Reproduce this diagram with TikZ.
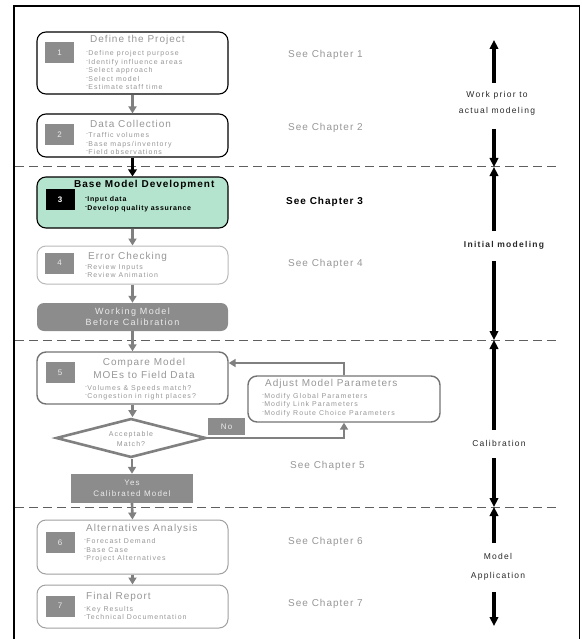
\documentclass[tikz,border=0pt]{standalone}
\usepackage{fontspec}
\usepackage{graphicx}
\setmainfont{Liberation Sans}
\newfontfamily\spacedA[LetterSpace=10]{Liberation Sans}
\newfontfamily\spacedB[LetterSpace=15]{Liberation Sans}
\usetikzlibrary{arrows.meta,shapes.geometric}

\definecolor{boxgray}{RGB}{140,140,140}
\definecolor{txtgray}{RGB}{150,150,150}
\definecolor{lightedge}{RGB}{185,185,185}
\definecolor{softedge}{RGB}{160,160,160}
\definecolor{midedge}{RGB}{115,115,115}
\definecolor{arrowgray}{RGB}{128,128,128}
\definecolor{mint}{RGB}{180,228,205}
\definecolor{dashgray}{RGB}{95,95,95}
\definecolor{sidetext}{RGB}{40,40,40}
\definecolor{paletext}{RGB}{235,235,235}

% small raised dash used in front of each list item
\newcommand\bul{\raisebox{2pt}{\scalebox{0.8}[0.8]{-}}\hspace{0.3pt}}

\begin{document}
\begin{tikzpicture}[x=1pt,y=-1pt,
  stage/.style={draw, rounded corners=9pt, minimum width=191pt, inner sep=0pt, line width=1.1pt},
  numbox/.style={fill=boxgray, minimum width=29pt, minimum height=21pt, inner sep=0pt,
                 text=paletext, font=\spacedA\fontsize{8}{9}\selectfont},
  title/.style={anchor=west, inner sep=0pt, text=txtgray, font=\spacedA\fontsize{10}{12}\selectfont},
  items/.style={anchor=west, inner sep=0pt, text=txtgray, align=left,
                font=\spacedB\fontsize{7}{8.5}\selectfont},
  chap/.style={anchor=west, inner sep=0pt, text=txtgray, font=\spacedA\fontsize{10}{12}\selectfont},
  grayfill/.style={fill=boxgray, inner sep=0pt, text=paletext, align=center,
                   font=\spacedB\fontsize{8}{10.5}\selectfont},
  flow/.style={draw=arrowgray, line width=2.6pt, -{Triangle[width=8pt,length=7pt]}},
  side/.style={line width=3.6pt, -{Triangle[width=8.5pt,length=9pt]}},
  divider/.style={draw=dashgray, line width=1pt, dash pattern=on 9pt off 5pt},
  sidelabel/.style={inner sep=0pt, text=sidetext, align=center,
                    font=\spacedB\fontsize{8.5}{16.5}\selectfont}
]
\useasboundingbox (0,0) rectangle (581,639);

% outer frame (open at the bottom)
\draw[line width=2pt] (14,639) -- (14,6) -- (579.5,6);
\draw[line width=1pt] (579.5,6) -- (579.5,639);

% phase dividers
\draw[divider] (15,167) -- (557,167);
\draw[divider] (15,340) -- (557,340);
\draw[divider] (15,507) -- (557,507);

% ---- stage 1
\node[stage] (b1) at (132.5,63) [minimum height=62pt] {};
\node[numbox] (n1) at (59.5,53) {1};
\node[title] (t1) at (90,40) {Define the Project};
\node[items] (i1) at (86,70) {\bul Define project purpose\\\bul Identify influence areas\\\bul Select approach\\\bul Select model\\\bul Estimate staff time};
\node[chap] (c1) at (288,55) {See Chapter 1};

% ---- stage 2
\node[stage] (b2) at (132.5,135.5) [minimum height=43pt] {};
\node[numbox] (n2) at (59.5,135) {2};
\node[title] (t2) at (90,124) {Data Collection};
\node[items] (i2) at (86,143.5) {\bul Traffic volumes\\\bul Base maps/inventory\\\bul Field observations};
\node[chap] (c2) at (288,128) {See Chapter 2};

% ---- stage 3
\node[stage, fill=mint] (b3) at (132.5,202.5) [minimum height=51pt] {};
\node[numbox, fill=black, text=white, font=\bfseries\spacedA\fontsize{8}{9}\selectfont] (n3) at (60,199.5) {3};
\node[title, text=black, font=\bfseries\spacedA\fontsize{10}{12}\selectfont] (t3) at (74,185) {Base Model Development};
\node[items, text=black, font=\bfseries\spacedA\fontsize{7}{9}\selectfont] (i3) at (85,204.5) {\bul Input data\\\bul Develop quality assurance};
\node[chap, text=black, font=\bfseries\spacedA\fontsize{10}{12}\selectfont] (c3) at (286,202) {See Chapter 3};

% ---- stage 4
\node[stage, draw=lightedge, line width=1pt] (b4) at (132.5,265) [minimum height=38pt] {};
\node[numbox] (n4) at (59.5,263) {4};
\node[title] (t4) at (88,257) {Error Checking};
\node[items] (i4) at (85,271) {\bul Review Inputs\\\bul Review Animation};
\node[chap] (c4) at (288,264) {See Chapter 4};

% ---- working model
\node[grayfill, rounded corners=7pt, minimum width=191pt, minimum height=28pt,
      font=\spacedB\fontsize{9}{11.5}\selectfont] (wm) at (132.5,317) {Working Model\\Before Calibration};

% ---- stage 5
\node[stage, draw=midedge, line width=1.4pt] (b5) at (132.5,378) [minimum height=52pt] {};
\node[numbox] (n5) at (60,372.5) {5};
\node[title, anchor=center, align=center, font=\spacedA\fontsize{10}{13}\selectfont] (t5) at (144,368.5) {Compare Model\\MOEs to Field Data};
\node[items] (i5) at (85,392.5) {\bul Volumes \& Speeds match?\\\bul Congestion in right places?};

% ---- calibration check
\node[diamond, draw=arrowgray, line width=2.6pt, fill=white, minimum width=150pt,
      minimum height=39pt, inner sep=0pt] (dia) at (131,438) {};
\node[inner sep=0pt, text=txtgray, align=center, font=\spacedB\fontsize{7}{10}\selectfont] (dt) at (131,439) {Acceptable\\Match?};
\node[grayfill, minimum width=37pt, minimum height=17pt] (no) at (226.5,426.5) {No};

\node[stage, draw=midedge, line width=1.4pt, minimum width=192pt] (adj) at (344,399) [minimum height=46pt] {};
\node[title] (ta) at (265,384) {Adjust Model Parameters};
\node[items] (ia) at (262,405) {\bul Modify Global Parameters\\\bul Modify Link Parameters\\\bul Modify Route Choice Parameters};
\node[chap] (c5) at (290,466) {See Chapter 5};

\node[grayfill, minimum width=122pt, minimum height=29pt] (yes) at (132,488.5) {Yes\\Calibrated Model};

% ---- stage 6
\node[stage, draw=softedge, line width=1pt] (b6) at (132.5,547) [minimum height=54pt] {};
\node[numbox] (n6) at (60,542.5) {6};
\node[title] (t6) at (86,529) {Alternatives Analysis};
\node[items] (i6) at (84,550.5) {\bul Forecast Demand\\\bul Base Case\\\bul Project Alternatives};
\node[chap] (c6) at (288,542) {See Chapter 6};

% ---- stage 7
\node[stage, draw=softedge, line width=1pt] (b7) at (132.5,606.5) [minimum height=43pt] {};
\node[numbox] (n7) at (60,606) {7};
\node[title] (t7) at (86,597) {Final Report};
\node[items] (i7) at (84,613) {\bul Key Results\\\bul Technical Documentation};
\node[chap] (c7) at (288,604) {See Chapter 7};

% ---- process flow
\draw[flow] (b1.south) -- (b2.north);
\draw[line width=3pt, -{Triangle[width=8.5pt,length=7pt]}] (b2.south) -- (b3.north);
\draw[flow] (b3.south) -- (b4.north);
\draw[flow] (b4.south) -- (wm.north);
\draw[flow] (wm.south) -- (b5.north);
\draw[flow] (b5.south) -- (b5.south |- dia.north);
\draw[flow] (dia.east) -| (adj.south);
\draw[flow] (adj.north) |- ([yshift=15pt]b5.east);
\draw[flow] (yes.north |- dia.south) -- (yes.north);
\draw[flow] (yes.south) -- (b6.north);
\draw[flow] (b6.south) -- (b7.north);

% ---- phase labels on the right
\node[sidelabel] (p1) at (497,103.5) {Work prior to\\actual modeling};
\node[sidelabel, font=\bfseries\spacedB\fontsize{8.5}{10}\selectfont] (p2) at (504,245) {Initial modeling};
\node[sidelabel] (p3) at (499,443) {Calibration};
\node[sidelabel, font=\spacedB\fontsize{8.5}{19}\selectfont] (p4) at (498,566.5) {Model\\Application};

\coordinate (a0) at (494,40);
\coordinate (a1) at (494,83);
\coordinate (a2) at (494,129);
\coordinate (a3) at (494,167);
\coordinate (a4) at (494,231);
\coordinate (a5) at (494,261);
\coordinate (a6) at (494,340);
\coordinate (a7) at (494,430);
\coordinate (a8) at (494,458);
\coordinate (a9) at (494,507);
\coordinate (a10) at (494,543);
\coordinate (a11) at (494,592);
\coordinate (a12) at (494,626);

\draw[side] (a1) -- (a0);
\draw[side] (a2) -- (a3);
\draw[side] (a4) -- (a3);
\draw[side] (a5) -- (a6);
\draw[side] (a7) -- (a6);
\draw[side] (a8) -- (a9);
\draw[side] (a10) -- (a9);
\draw[side] (a11) -- (a12);
\end{tikzpicture}
\end{document}
